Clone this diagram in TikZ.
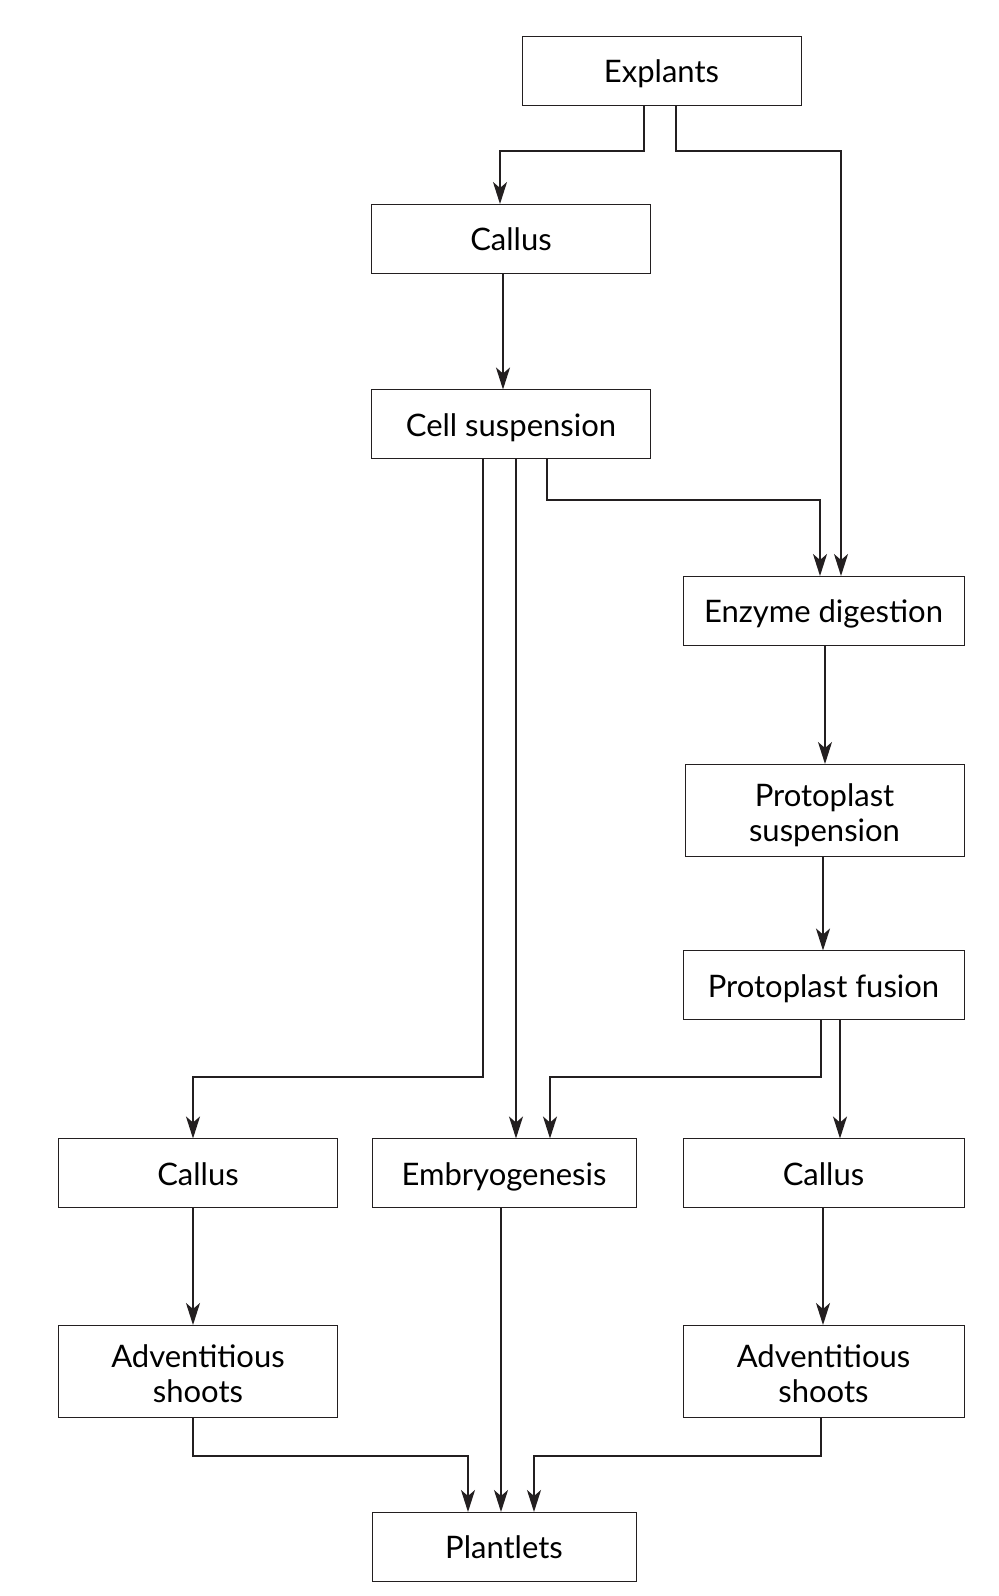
\documentclass[tikz,border=0pt]{standalone}
\usepackage{fontspec}
\usepackage{xcolor}
\usepackage{tikz}
\usetikzlibrary{arrows.meta}
\setmainfont{Lato}
\definecolor{boxline}{HTML}{231F20}
\newcommand\topstrut{\rule{0pt}{18pt}}
\newcommand\tallstrut{\rule{0pt}{37pt}}
\newcommand\botstrut{\rule[-6pt]{0pt}{6pt}}

\tikzset{
  stagebox/.style={draw=boxline, line width=0.5pt, outer sep=0pt, inner sep=0pt,
    minimum width=139.5pt, minimum height=34.5pt, align=center,
    font=\fontsize{15.5}{17.5}\selectfont,
    execute at begin node=\topstrut, execute at end node=\botstrut},
  twoline/.style={minimum height=46pt, execute at begin node=\tallstrut},
  flowarrow/.style={draw=boxline, line width=1pt,
    -{Stealth[length=11pt, width=7pt, inset=3pt]}},
  thinarrow/.style={flowarrow, line width=0.6pt}
}

\begin{document}
\begin{tikzpicture}[x=0.5pt, y=-0.5pt]
      \useasboundingbox (0,0) rectangle (999,1596);
      % stages
      \node[stagebox] (explants) at (661.5,70.5) {Explants};
      \node[stagebox] (callusA) at (511,238.5) {Callus};
      \node[stagebox] (cellsus) at (511,424) {Cell suspension};
      \node[stagebox, minimum width=140.5pt] (enzyme) at (823.5,610.5) {Enzyme digestion};
      \node[stagebox, twoline] (protsus) at (824.5,810) {Protoplast\\suspension};
      \node[stagebox, minimum width=140.5pt] (protfus) at (823.5,985) {Protoplast fusion};
      \node[stagebox] (callusL) at (198,1173) {Callus};
      \node[stagebox, minimum width=132pt] (embryo) at (504,1173) {Embryogenesis};
      \node[stagebox, minimum width=140.5pt] (callusR) at (823.5,1173) {Callus};
      \node[stagebox, twoline] (advL) at (198,1371) {Adventitious\\shoots};
      \node[stagebox, twoline, minimum width=140.5pt] (advR) at (823.5,1371) {Adventitious\\shoots};
      \node[stagebox, minimum width=132pt] (plantlets) at (504,1546.5) {Plantlets};
      % connectors
      \draw[flowarrow] (explants.south -| 644,0) -- (644,151) -- (500,151) -- (callusA.north -| 500,0);
      \draw[flowarrow] (explants.south -| 676,0) -- (676,151) -- (841,151) -- (enzyme.north -| 841,0);
      \draw[flowarrow] (callusA.south -| 503,0) -- (cellsus.north -| 503,0);
      \draw[flowarrow] (cellsus.south -| 483,0) -- (483,1077) -- (193,1077) -- (callusL.north -| 193,0);
      \draw[flowarrow] (cellsus.south -| 516,0) -- (embryo.north -| 516,0);
      \draw[flowarrow] (cellsus.south -| 547,0) -- (547,500) -- (820,500) -- (enzyme.north -| 820,0);
      \draw[thinarrow] (enzyme.south -| 825,0) -- (protsus.north -| 825,0);
      \draw[flowarrow] (protsus.south -| 823,0) -- (protfus.north -| 823,0);
      \draw[flowarrow] (protfus.south -| 821,0) -- (821,1077) -- (550,1077) -- (embryo.north -| 550,0);
      \draw[flowarrow] (protfus.south -| 840,0) -- (callusR.north -| 840,0);
      \draw[flowarrow] (callusL.south -| 193,0) -- (advL.north -| 193,0);
      \draw[flowarrow] (embryo.south -| 501,0) -- (plantlets.north -| 501,0);
      \draw[flowarrow] (callusR.south -| 823,0) -- (advR.north -| 823,0);
      \draw[flowarrow] (advL.south -| 193,0) -- (193,1456) -- (468,1456) -- (plantlets.north -| 468,0);
      \draw[flowarrow] (advR.south -| 821,0) -- (821,1456) -- (534,1456) -- (plantlets.north -| 534,0);
    \end{tikzpicture}
\end{document}
